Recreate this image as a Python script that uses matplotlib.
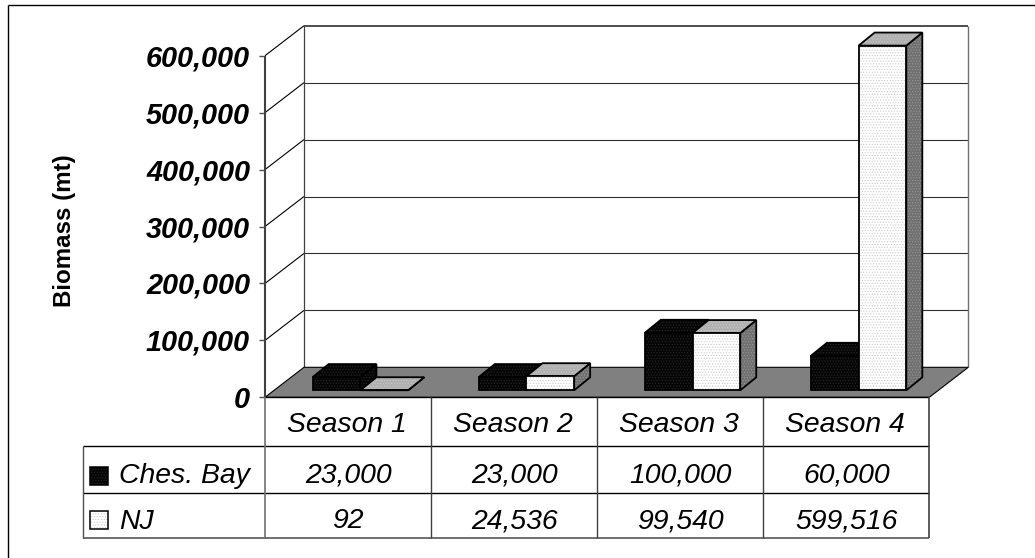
import matplotlib
matplotlib.use("Agg")
import matplotlib.pyplot as plt
from matplotlib.patches import Polygon, Rectangle
from matplotlib.transforms import Affine2D

seasons = ["Season 1", "Season 2", "Season 3", "Season 4"]
series_names = ["Ches. Bay", "NJ"]
ches_bay = [23000, 23000, 100000, 60000]
nj = [92, 24536, 99540, 599516]
ches_labels = ["23,000", "23,000", "100,000", "60,000"]
nj_labels = ["92", "24,536", "99,540", "599,516"]
y_ticks = [0, 100000, 200000, 300000, 400000, 500000, 600000]
y_label = "Biomass (mt)"

W, H = 1035, 558
plt.rcParams["font.family"] = ["Liberation Sans", "DejaVu Sans"]
plt.rcParams["hatch.linewidth"] = 0.5
fig = plt.figure(figsize=(W / 100, H / 100), dpi=100, facecolor="white")
px = Affine2D().scale(1 / W, -1 / H).translate(0, 1) + fig.transFigure

X0, X1, Y0, Y1 = 265.0, 929.3, 397.3, 55.7
ax = fig.add_axes([X0 / W, 1 - Y0 / H, (X1 - X0) / W, (Y0 - Y1) / H])
ax.set_xlim(0, 4)
ax.set_ylim(0, 600000)
ax.axis("off")

PX_X = 4 / (X1 - X0)
PX_Y = 600000 / (Y0 - Y1)
WALL_DX, WALL_DY = 39.0, 30.0
BAR_DX, BAR_DY = 16.0 * PX_X, 13.0 * PX_Y
BAR_W = 47.7 * PX_X
BAR_BASE = 7.0 * PX_Y
BAR_SCALE = 1.01
DARK, GREY = "#404040", "#808080"


def pline(xs, ys, color="black", lw=1.0, z=1):
    fig.add_artist(plt.Line2D(xs, ys, transform=px, color=color, lw=lw, zorder=z,
                              solid_capstyle="butt"))


def dline(xs, ys, color="black", lw=0.8, z=1):
    ax.plot(xs, ys, color=color, lw=lw, zorder=z, clip_on=False, solid_capstyle="butt")


# outer frame
pline([7.5, 7.5], [558, 4.5], "black", 1.0)
pline([7.5, 1035], [4.5, 4.5], "black", 1.0)

# walls + floor
wx = WALL_DX * PX_X
wy = WALL_DY * PX_Y
ax.add_patch(Polygon([(0, 0), (4, 0), (4 + wx, wy), (wx, wy)], closed=True, fc=GREY,
                     ec="black", lw=0.8, zorder=2, clip_on=False))
for t in y_ticks:
    if t > 0:
        dline([0, wx], [t, t + wy], "black", 0.8, 1)
        top = t == y_ticks[-1]
        dline([wx, 4 + wx], [t + wy, t + wy], DARK if top else "#303030", 1.3 if top else 0.8, 1)
    dline([-6 * PX_X, 0], [t, t], "#505050", 1.0, 3)
dline([wx, wx], [wy, 600000 + wy], DARK, 0.9, 1)
dline([4 + wx, 4 + wx], [wy, 600000 + wy], "#707070", 1.0, 1)

# tick labels
for t in y_ticks:
    fig.text(250 / W, 1 - (Y0 - (t / PX_Y) + 10.5) / H, f"{t:,}", ha="right", va="baseline",
             fontsize=20.8, fontweight="bold", fontstyle="italic", color="black")
fig.text(65 / W, 1 - 231 / H, y_label, rotation=90, ha="center", va="center",
         fontsize=17.4, fontweight="bold", color="black")


def solid(pts, face, dots, z):
    ax.add_patch(Polygon(pts, closed=True, fc=face, ec=dots, hatch="......", lw=0,
                         zorder=z, clip_on=False))
    ax.add_patch(Polygon(pts, closed=True, fill=False, ec="black", lw=1.3,
                         joinstyle="miter", zorder=z + 0.1, clip_on=False))


def bar3d(x, value, style, z):
    b = BAR_BASE
    t = BAR_BASE + value * BAR_SCALE
    r = x + BAR_W
    solid([(r, b), (r + BAR_DX, b + BAR_DY), (r + BAR_DX, t + BAR_DY), (r, t)],
          style["side"][0], style["side"][1], z)
    solid([(x, t), (r, t), (r + BAR_DX, t + BAR_DY), (x + BAR_DX, t + BAR_DY)],
          style["top"][0], style["top"][1], z + 0.2)
    solid([(x, b), (r, b), (r, t), (x, t)], style["front"][0], style["front"][1], z + 0.4)


dark_style = {"front": ("#060606", "#262626"), "top": ("#060606", "#262626"),
              "side": ("#060606", "#262626")}
light_style = {"front": ("#ffffff", "#cccccc"), "top": ("#b0b0b0", "#c8c8c8"),
               "side": ("#707070", "#999999")}
for i in range(len(seasons)):
    x = i + 47.7 * PX_X
    bar3d(x, ches_bay[i], dark_style, 4)
    bar3d(x + BAR_W, nj[i], light_style, 5)

# table
cols = [X0 + (X1 - X0) * k / 4 for k in range(5)]
T0, R1, R2, R3, TL = 397.3, 445.6, 493.3, 537.7, 82.7
pline([X0, X1], [T0, T0], "black", 1.0, 3)
pline([TL, X1], [R1, R1], "black", 1.0, 3)
pline([TL, X1], [R2, R2], "black", 1.0, 3)
pline([TL, X1], [R3, R3], "#707070", 1.4, 3)
pline([TL, TL], [R1, R3], "#505050", 1.0, 3)
pline([X0, X0], [Y1, Y0], DARK, 1.5, 3)
pline([X0, X0], [Y0, R3], "#707070", 1.2, 3)
for c in cols[1:-1]:
    pline([c, c], [T0, R3], "#404040", 1.0, 3)
pline([X1, X1], [T0, R3], "#404040", 1.2, 3)


def cell(x, baseline, s, ha="center"):
    fig.text(x / W, 1 - baseline / H, s, ha=ha, va="baseline", fontsize=20.4,
             fontstyle="italic", color="black")


for i, s in enumerate(seasons):
    c = (cols[i] + cols[i + 1]) / 2
    cell(c - 1, 431.7, s)
    cell(c, 482.0, ches_labels[i])
    cell(c, 528.5, nj_labels[i])
cell(119, 483, series_names[0], "left")
cell(119, 529, series_names[1], "left")

for (yt, yb), style in zip([(466.7, 484.5), (511, 529)], [dark_style, light_style]):
    face, dots = style["front"]
    fig.add_artist(Rectangle((90, yt), 18, yb - yt, transform=px, fc=face, ec=dots,
                             hatch="......", lw=0))
    fig.add_artist(Rectangle((90, yt), 18, yb - yt, transform=px, fill=False, ec="black", lw=1.1))

fig.savefig("out.png", dpi=100)
